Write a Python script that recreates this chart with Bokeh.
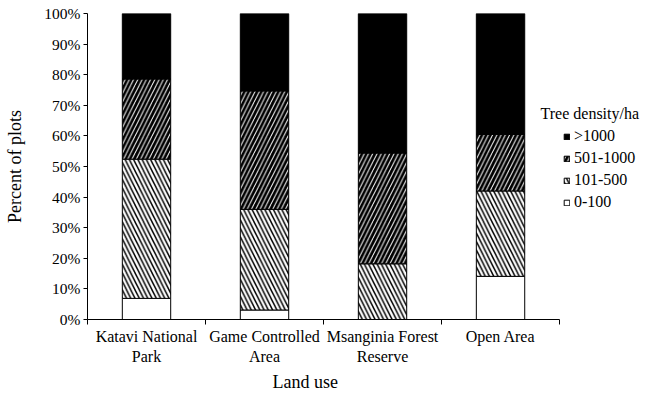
from bokeh.plotting import figure
from bokeh.models import (ColumnDataSource, Range1d, FixedTicker, Legend, LegendItem,
                          Label, Title, PrintfTickFormatter)
from bokeh.embed import file_html
from bokeh.resources import INLINE

# ---- data ----
categories = ["Katavi National\nPark", "Game Controlled\nArea",
              "Msanginia Forest\nReserve", "Open Area"]
density_classes = ["0-100", "101-500", "501-1000", ">1000"]
d_0_100 = [6.9, 3.1, 0.0, 14.1]
d_101_500 = [45.5, 32.9, 18.2, 27.9]
d_501_1000 = [26.2, 38.7, 36.2, 18.5]
d_gt_1000 = [21.4, 25.3, 45.6, 39.5]
y_ticks = [0, 10, 20, 30, 40, 50, 60, 70, 80, 90, 100]

FONT = "Liberation Serif"

n = len(categories)
xpos = [i + 0.5 for i in range(n)]
bounds = list(range(n + 1))

src = ColumnDataSource(dict(x=xpos, c0=d_0_100, c1=d_101_500, c2=d_501_1000, c3=d_gt_1000))

# frame extends to the right so the legend (inside the frame) is not clipped
p = figure(width=642, height=393, x_range=Range1d(0, 4.703), y_range=Range1d(0, 100),
           output_backend="svg", toolbar_location=None,
           min_border_left=87, min_border_right=0, min_border_top=13, min_border_bottom=73)
p.xgrid.visible = False
p.ygrid.visible = False
p.outline_line_color = None
p.background_fill_color = "white"

rs = p.vbar_stack(["c0", "c1", "c2", "c3"], x="x", width=0.41, source=src,
                  fill_color=["white", "white", "black", "black"],
                  line_color="black", line_width=1,
                  hatch_pattern=[" ", "\\", "/", " "],
                  hatch_color=["black", "black", "white", "black"],
                  hatch_scale=8.5, hatch_weight=[1.0, 1.5, 1.0, 1.0])

# y axis
ya = p.yaxis[0]
ya.ticker = FixedTicker(ticks=y_ticks)
ya.formatter = PrintfTickFormatter(format="%d%%")
ya.major_tick_out = 4
ya.major_tick_in = 0
ya.minor_tick_line_color = None
ya.axis_line_color = "black"
ya.major_tick_line_color = "black"
ya.major_label_standoff = 3
ya.major_label_text_font = FONT
ya.major_label_text_font_size = "15.5px"
ya.major_label_text_color = "black"
ya.axis_label = "Percent of plots"
ya.axis_label_text_font = FONT
ya.axis_label_text_font_size = "18px"
ya.axis_label_text_font_style = "normal"
ya.axis_label_text_color = "black"
ya.axis_label_standoff = 16

# x axis (category labels between boundary ticks)
xa = p.xaxis[0]
xa.bounds = (0, n)
xa.ticker = FixedTicker(ticks=xpos, minor_ticks=bounds)
xa.major_label_overrides = {x: c for x, c in zip(xpos, categories)}
xa.major_tick_line_color = None
xa.major_tick_out = 0
xa.major_tick_in = 0
xa.minor_tick_line_color = "black"
xa.minor_tick_out = 5
xa.minor_tick_in = 0
xa.axis_line_color = "black"
xa.major_label_standoff = 3
xa.major_label_text_font = FONT
xa.major_label_text_font_size = "16px"
xa.major_label_text_color = "black"

# x-axis title, placed under the category axis
xtitle = Title(text="Land use", align="left", offset=185, text_font=FONT,
               text_font_size="18px", text_font_style="normal", text_color="black", standoff=4)
p.add_layout(xtitle, "below")

# legend
items = [LegendItem(label=lab, renderers=[r]) for lab, r in
         zip(reversed(density_classes), reversed(rs))]
legend = Legend(items=items, location=(476, 108), padding=0, margin=0,
                border_line_color=None, background_fill_alpha=0,
                glyph_width=7, glyph_height=7, label_height=18, spacing=4, label_standoff=4,
                label_text_font=FONT, label_text_font_size="16px", label_text_color="black")
p.add_layout(legend, "center")

lt = Label(x=3.839, y=67.3, text="Tree density/ha", text_baseline="middle",
           text_font=FONT, text_font_size="16px", text_color="black")
p.add_layout(lt)

open("out.html", "w").write(file_html(p, INLINE))
